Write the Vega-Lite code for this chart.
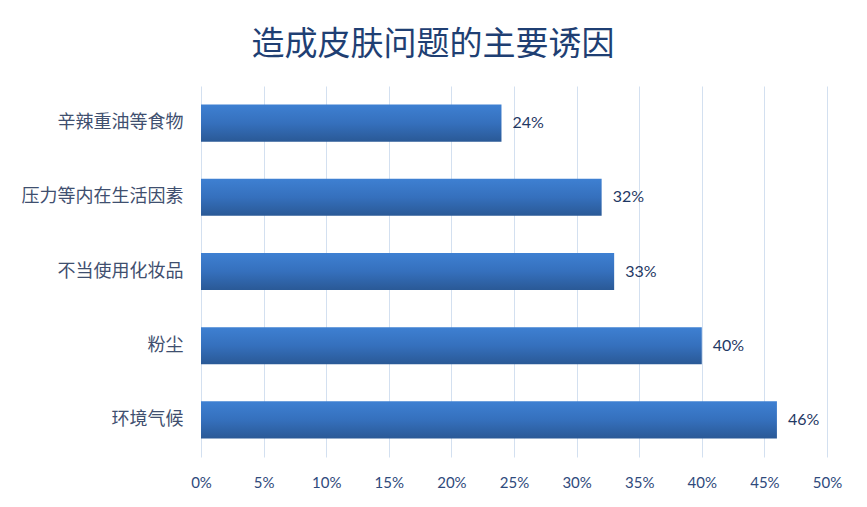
{
  "$schema": "https://vega.github.io/schema/vega-lite/v6.json",
  "autosize": {"type": "none"},
  "width": 626,
  "height": 371,
  "padding": {"left": 201, "top": 86, "right": 40, "bottom": 50},
  "background": "white",
  "title": {
    "text": "造成皮肤问题的主要诱因",
    "font": "Noto Sans CJK SC",
    "fontSize": 33,
    "fontWeight": "normal",
    "color": "#1f3f73",
    "anchor": "middle",
    "dx": -81,
    "offset": 24
  },
  "data": {
    "values": [
      {"cause": "辛辣重油等食物", "pct": 0.24},
      {"cause": "压力等内在生活因素", "pct": 0.32},
      {"cause": "不当使用化妆品", "pct": 0.33},
      {"cause": "粉尘", "pct": 0.40},
      {"cause": "环境气候", "pct": 0.46}
    ]
  },
  "encoding": {
    "y": {
      "field": "cause",
      "type": "nominal",
      "sort": null,
      "scale": {"paddingInner": 0.5, "paddingOuter": 0.25},
      "axis": {
        "title": null,
        "domain": false,
        "ticks": false,
        "labelPadding": 18,
        "labelFont": "Noto Sans CJK SC",
        "labelFontSize": 18,
        "labelColor": "#3f4f6f",
        "labelLimit": 300
      }
    },
    "x": {
      "field": "pct",
      "type": "quantitative",
      "scale": {"domain": [0, 0.5], "nice": false},
      "axis": {
        "title": null,
        "values": [0, 0.05, 0.1, 0.15, 0.2, 0.25, 0.3, 0.35, 0.4, 0.45, 0.5],
        "format": ".0%",
        "domain": false,
        "ticks": false,
        "grid": true,
        "gridColor": "#d3e0f0",
        "gridWidth": 1,
        "labelPadding": 18,
        "labelFont": "Lato",
        "labelFontSize": 15,
        "labelColor": "#2f4a7c",
        "labelFlush": false
      }
    }
  },
  "layer": [
    {
      "mark": {
        "type": "bar",
        "color": {
          "gradient": "linear",
          "x1": 0, "y1": 0, "x2": 0, "y2": 1,
          "stops": [
            {"offset": 0, "color": "#3e80d2"},
            {"offset": 0.5, "color": "#3570bd"},
            {"offset": 1, "color": "#2a5996"}
          ]
        }
      }
    },
    {
      "mark": {
        "type": "text",
        "align": "left",
        "baseline": "middle",
        "dx": 11,
        "font": "Lato",
        "fontSize": 16,
        "color": "#1f3864"
      },
      "encoding": {
        "text": {"field": "pct", "type": "quantitative", "format": ".0%"}
      }
    }
  ],
  "config": {
    "view": {"stroke": null}
  }
}
